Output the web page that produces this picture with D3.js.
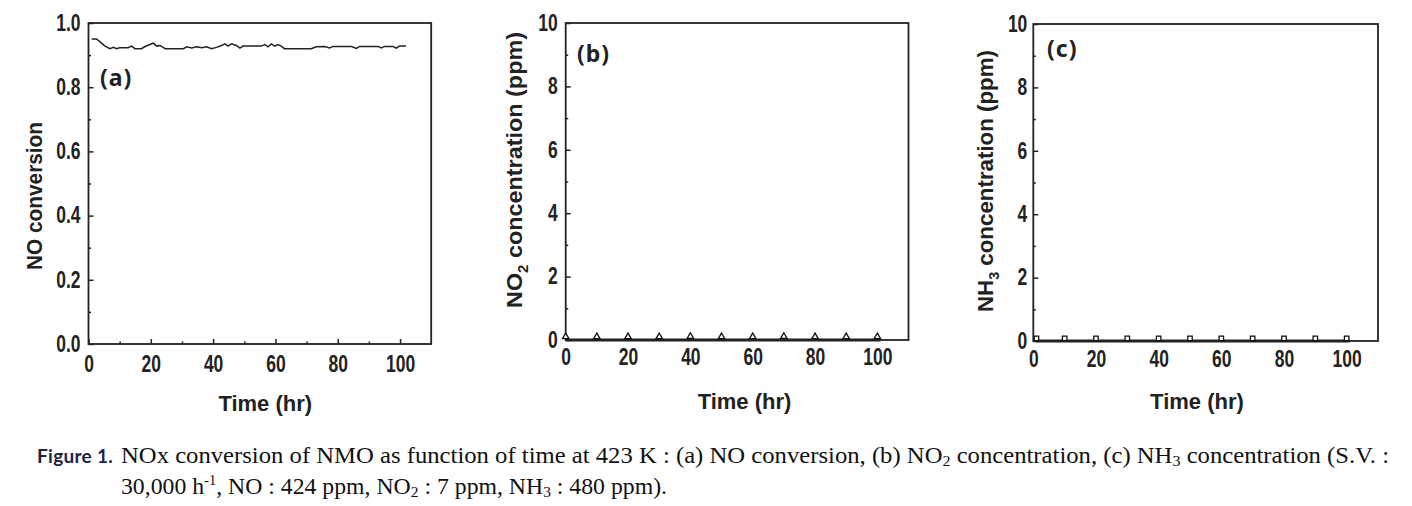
<!DOCTYPE html>
<html><head><meta charset="utf-8">
<script src="https://cdn.jsdelivr.net/npm/d3@7"></script>
<style>body{margin:0;background:#fff} svg{display:block}</style>
</head><body>
<svg id="fig" width="1412" height="506"></svg>
<script>
// ---------- data ----------
const timeTicks = [0, 20, 40, 60, 80, 100];
const timeMinor = [10, 30, 50, 70, 90];
const convTicks = [0.0, 0.2, 0.4, 0.6, 0.8, 1.0];
const convMinor = [0.1, 0.3, 0.5, 0.7, 0.9];
const ppmTicks = [0, 2, 4, 6, 8, 10];
const ppmMinor = [1, 3, 5, 7, 9];

const noTime = [1.0, 2.6, 3.7, 5.3, 6.9, 8.0, 9.0, 10.0, 12.7, 13.8, 14.9, 17.0, 18.0, 19.7, 20.8, 21.9, 23.0, 24.6, 30.5, 31.5, 33.1, 34.7, 36.3, 37.9, 39.5, 41.1, 42.7, 43.8, 44.8, 45.9, 47.5, 48.6, 49.6, 55.5, 56.6, 57.6, 58.7, 59.8, 60.8, 61.9, 62.9, 71.5, 73.1, 75.8, 77.4, 78.5, 84.4, 86.0, 87.0, 92.9, 94.0, 95.0, 97.7, 98.8, 99.8, 101.9];
const noConv = [0.950, 0.950, 0.941, 0.928, 0.920, 0.924, 0.920, 0.923, 0.923, 0.928, 0.920, 0.920, 0.926, 0.933, 0.937, 0.928, 0.930, 0.920, 0.920, 0.926, 0.922, 0.926, 0.923, 0.926, 0.920, 0.924, 0.930, 0.935, 0.928, 0.935, 0.930, 0.922, 0.928, 0.928, 0.933, 0.926, 0.935, 0.928, 0.933, 0.928, 0.920, 0.920, 0.926, 0.927, 0.922, 0.927, 0.927, 0.921, 0.927, 0.927, 0.922, 0.927, 0.927, 0.922, 0.928, 0.928];

const no2LineTime = [0, 101];
const no2LineValue = [0.0, 0.0];
const no2MarkTime = [0, 10, 20, 30, 40, 50, 60, 70, 80, 90, 100];
const no2MarkValue = [0.07, 0.07, 0.07, 0.07, 0.08, 0.07, 0.07, 0.08, 0.07, 0.07, 0.07];

const nh3LineTime = [1, 101];
const nh3LineValue = [0.0, 0.0];
const nh3MarkTime = [1, 10, 20, 30, 40, 50, 60, 70, 80, 90, 100];
const nh3MarkValue = [0.05, 0.05, 0.05, 0.05, 0.05, 0.05, 0.05, 0.05, 0.05, 0.05, 0.05];

// ---------- layout ----------
const svg = d3.select("#fig");
svg.append("rect").attr("width", 1412).attr("height", 506).attr("fill", "#fff");

const panels = [
  { id: "a", left: 88.5, right: 431.2, top: 23, bottom: 344, yDomain: [0, 1], yTicks: convTicks, yMinor: convMinor, fmt: d3.format(".1f"),
    label: "(a)", lx: 100, ly: 86, ytitle: [["NO conversion", 0]], ytx: 42, yty: 196, ylen: 148, xpad: 12, ypad: 8, xtOff: 21, xtY: 411,
    lineT: noTime, lineV: noConv, lineW: 1.5, markT: null },
  { id: "b", left: 565.7, right: 908.5, top: 23, bottom: 340, yDomain: [0, 10], yTicks: ppmTicks, yMinor: ppmMinor, fmt: d3.format("d"),
    label: "(b)", lx: 577, ly: 62, ytitle: [["NO", 0], ["2", 1], [" concentration (ppm)", 0]], ytx: 522, yty: 170, ylen: 276, xpad: 9, ypad: 8, xtOff: 23, xtY: 409,
    lineT: no2LineTime, lineV: no2LineValue, lineW: 3, markT: no2MarkTime, markV: no2MarkValue, mark: "triangle" },
  { id: "c", left: 1033.3, right: 1378, top: 24, bottom: 341, yDomain: [0, 10], yTicks: ppmTicks, yMinor: ppmMinor, fmt: d3.format("d"),
    label: "(c)", lx: 1047, ly: 57, ytitle: [["NH", 0], ["3", 1], [" concentration (ppm)", 0]], ytx: 993, yty: 181, ylen: 262, xpad: 10, ypad: 6, xtOff: 7, xtY: 409,
    lineT: nh3LineTime, lineV: nh3LineValue, lineW: 3, markT: nh3MarkTime, markV: nh3MarkValue, mark: "square" }
];

const axisFont = "'Liberation Sans', Arial, sans-serif";
const SX = 0.76;

panels.forEach(p => {
  const x = d3.scaleLinear().domain([0, 110]).range([p.left, p.right]);
  const y = d3.scaleLinear().domain(p.yDomain).range([p.bottom, p.top]);
  const g = svg.append("g");

  const xa = g.append("g").attr("transform", `translate(0,${p.bottom})`)
    .call(d3.axisBottom(x).tickValues(timeTicks).tickSizeInner(-5).tickSizeOuter(0).tickPadding(p.xpad));
  g.append("g").attr("transform", `translate(0,${p.bottom})`)
    .call(d3.axisBottom(x).tickValues(timeMinor).tickSizeInner(-2.5).tickSizeOuter(0).tickFormat(""));
  const ya = g.append("g").attr("transform", `translate(${p.left},0)`)
    .call(d3.axisLeft(y).tickValues(p.yTicks).tickSizeInner(-5).tickSizeOuter(0).tickPadding(p.ypad).tickFormat(p.fmt));
  g.append("g").attr("transform", `translate(${p.left},0)`)
    .call(d3.axisLeft(y).tickValues(p.yMinor).tickSizeInner(-2.5).tickSizeOuter(0).tickFormat(""));

  g.selectAll(".domain").remove();
  g.selectAll(".tick line").attr("stroke", "#222").attr("stroke-width", 1.5);
  [xa, ya].forEach(a => a.selectAll("text")
    .attr("font-family", axisFont).attr("font-weight", "bold").attr("font-size", 23).attr("fill", "#222"));
  xa.selectAll("text").attr("transform", `scale(${SX},1)`);
  ya.selectAll("text").attr("x", -p.ypad / SX).attr("transform", `scale(${SX},1)`);

  g.append("rect").attr("x", p.left).attr("y", p.top)
    .attr("width", p.right - p.left).attr("height", p.bottom - p.top)
    .attr("fill", "none").attr("stroke", "#222").attr("stroke-width", 1.8);

  const pts = p.lineT.map((t, i) => [t, p.lineV[i]]);
  g.append("path").datum(pts)
    .attr("d", d3.line().x(d => x(d[0])).y(d => y(d[1])))
    .attr("fill", "none").attr("stroke", "#222").attr("stroke-width", p.lineW);

  if (p.markT) {
    const mpts = p.markT.map((t, i) => [t, p.markV[i]]);
    const sym = p.mark === "triangle" ? d3.symbol().type(d3.symbolTriangle).size(18)
                                      : d3.symbol().type(d3.symbolSquare).size(20);
    g.selectAll("path.mk").data(mpts).enter().append("path").attr("class", "mk")
      .attr("d", sym)
      .attr("transform", d => `translate(${x(d[0])},${y(d[1]) - 1})`)
      .attr("fill", "#fff").attr("stroke", "#111").attr("stroke-width", 1.3);
  }

  g.append("text").attr("x", (x(0) + x(100)) / 2 + p.xtOff).attr("y", p.xtY)
    .attr("text-anchor", "middle").attr("font-family", axisFont).attr("font-weight", "bold")
    .attr("font-size", 22).attr("fill", "#222").text("Time (hr)");

  const yt = g.append("text")
    .attr("transform", `translate(${p.ytx},${p.yty}) rotate(-90)`)
    .attr("text-anchor", "middle").attr("font-family", axisFont).attr("font-weight", "bold")
    .attr("font-size", 22).attr("fill", "#222")
    .attr("textLength", p.ylen).attr("lengthAdjust", "spacingAndGlyphs");
  p.ytitle.forEach(([s, sub], i) => {
    const ts = yt.append("tspan").text(s);
    if (sub) ts.attr("font-size", 14).attr("dy", 6);
    else if (i > 0) ts.attr("dy", -6);
  });

  g.append("text").attr("x", p.lx).attr("y", p.ly)
    .attr("font-family", "'Noto Sans', 'Open Sans', sans-serif").attr("font-weight", "bold")
    .attr("font-size", 23).attr("letter-spacing", 1).attr("fill", "#222").text(p.label);
});

// ---------- caption ----------
const serif = "'Liberation Serif', 'Times New Roman', serif";
svg.append("text").attr("x", 37).attr("y", 463)
  .attr("font-family", "Lato, 'Open Sans', sans-serif").attr("font-weight", "bold")
  .attr("font-size", 19).attr("letter-spacing", 0.3).attr("fill", "#1d2440").text("Figure 1.");

function caption(yPos, parts, len) {
  const t = svg.append("text").attr("x", 121).attr("y", yPos)
    .attr("font-family", serif).attr("font-size", 23).attr("fill", "#111")
    .attr("textLength", len).attr("lengthAdjust", "spacingAndGlyphs");
  parts.forEach(([s, k], i, arr) => {
    const ts = t.append("tspan").text(s);
    if (k === "sup") ts.attr("font-size", 14).attr("dy", -9);
    else if (k === "sub") ts.attr("font-size", 15).attr("dy", 3);
    else if (i > 0) ts.attr("dy", arr[i - 1][1] === "sup" ? 9 : -3);
  });
}
caption(463, [["NOx conversion of NMO as function of time at 423 K : (a) NO conversion, (b) NO", "n"], ["2", "sub"],
  [" concentration, (c) NH", "n"], ["3", "sub"], [" concentration (S.V. :", "n"]], 1268);
caption(494, [["30,000 h", "n"], ["-1", "sup"], [", NO : 424 ppm, NO", "n"], ["2", "sub"], [" : 7 ppm, NH", "n"], ["3", "sub"], [" : 480 ppm).", "n"]], 546);
</script>
</body></html>
